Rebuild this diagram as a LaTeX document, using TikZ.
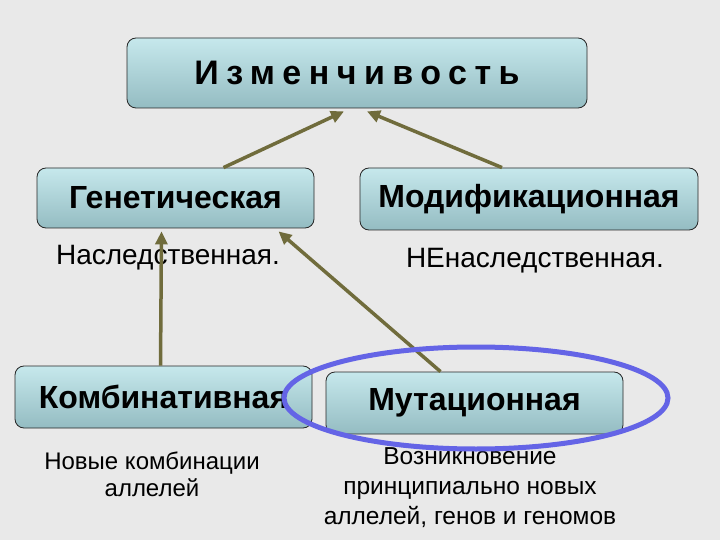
\documentclass[tikz,border=0pt]{standalone}
\usepackage{fontspec}
\setmainfont{Liberation Sans}
\usetikzlibrary{arrows.meta,shapes.geometric}
\definecolor{bg}{RGB}{233,233,233}
\definecolor{boxl}{RGB}{198,232,236}
\definecolor{boxd}{RGB}{148,188,194}
\definecolor{olive}{RGB}{112,108,60}
\definecolor{ring}{RGB}{100,100,230}
\tikzset{
  card/.style={draw=black!85, line width=0.8pt, rounded corners=9pt, left color=boxl, right color=boxd, shading angle=0, inner sep=0pt, font=\bfseries\fontsize{32}{34}\selectfont},
  note/.style={align=center, font=\fontsize{28}{36}\selectfont},
  link/.style={draw=olive, line width=3.5pt, -{Triangle[length=13pt,width=12pt]}},
}
\begin{document}
\begin{tikzpicture}[x=1pt,y=-1pt]
\fill[bg] (0,0) rectangle (720,540);
\useasboundingbox (0,0) rectangle (720,540);
\node[card, minimum width=460pt, minimum height=70pt, font=\bfseries\fontsize{34}{36}\selectfont\addfontfeature{LetterSpace=22}] (top) at (357,73) {Изменчивость};
\node[card, minimum width=277pt, minimum height=60pt] (gen) at (175.5,198) {Генетическая};
\node[card, minimum width=338pt, minimum height=62pt] (mod) at (529,199) {Модификационная};
\node[card, minimum width=297pt, minimum height=62pt] (komb) at (163.5,397) {Комбинативная};
\node[card, minimum width=297pt, minimum height=62pt] (mut) at (474.5,403) {Мутационная};
\node[note] (her) at (168,258) {Наследственная.};
\node[note] (nher) at (535,261) {НЕнаследственная.};
\node[note, font=\fontsize{24}{27}\selectfont] (kdesc) at (152,474) {Новые комбинации\\аллелей};
\node[note, font=\fontsize{24.5}{30}\selectfont] (mdesc) at (470,488) {Возникновение\\принципиально новых\\аллелей, генов и геномов};
\draw[link] ([xshift=48pt]gen.north) -- ([xshift=-13pt,yshift=-3pt]top.south);
\draw[link] ([xshift=-27pt]mod.north) -- ([xshift=10pt,yshift=-3pt]top.south);
\draw[link] ([xshift=-3pt]komb.north) -- ([xshift=-14pt,yshift=-3pt]gen.south);
\draw[link] ([xshift=-34pt]mut.north) -- ([xshift=103pt,yshift=-3pt]gen.south);
\draw[ring, line width=5pt] (476,398) ellipse [x radius=192, y radius=51];
\end{tikzpicture}
\end{document}
